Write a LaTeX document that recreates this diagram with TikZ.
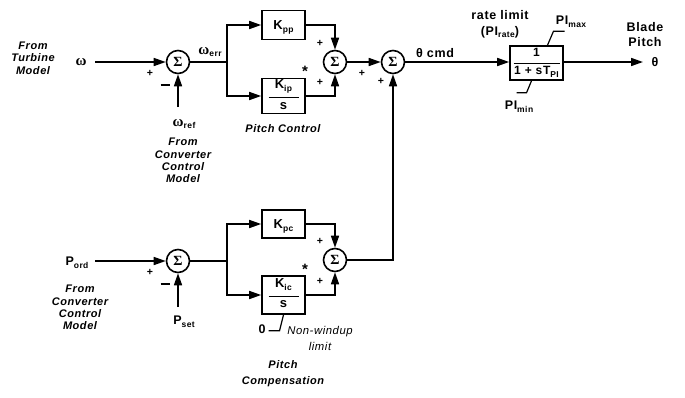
\documentclass[tikz,border=0pt]{standalone}
\usepackage{fontspec}
\setmainfont{Liberation Sans}[LetterSpace=5]
\newfontfamily\sigfont{Liberation Serif}
\usepackage{tikz}
\usetikzlibrary{arrows.meta,positioning,calc}
\newcommand\lo[1]{\raisebox{-0.45ex}{\fontsize{8.5}{9}\selectfont #1}}
\newcommand\om{{\sigfont\fontsize{15}{15}\selectfont ω}}
\newcommand\fracbox[3]{\begin{tabular}{@{}c@{}}#1\\[-4pt]\rule{#3}{1.1pt}\\[-2pt]#2\end{tabular}}

\begin{document}
\begin{tikzpicture}[x=1pt,y=-1pt,line width=1.6pt,
  arr/.style={-{Triangle[length=12pt,width=8pt]}},
  sumnode/.style={draw,circle,minimum size=23pt,inner sep=0pt,font=\sigfont\bfseries\fontsize{14}{14}\selectfont},
  blk/.style={draw,rectangle,minimum width=43pt,inner sep=0pt,font=\bfseries\fontsize{13}{13}\selectfont},
  captxt/.style={font=\bfseries\itshape\fontsize{11}{12.3}\selectfont,align=center,inner sep=0pt},
  sgn/.style={font=\bfseries\fontsize{10.5}{10.5}\selectfont,inner sep=0pt},
  lbl/.style={font=\bfseries\fontsize{12.5}{12.5}\selectfont,inner sep=0pt}]
\useasboundingbox (0,0) rectangle (685,397);
% pitch control
\node[captxt] (fromTurb) at (33,58) {From\\Turbine\\Model};
\node[lbl] (omg) at (81,62) {\om};
\coordinate (wIn) at (95,62);
\node[sumnode] (sumW) at (178,62) {Σ};
\draw[arr] (wIn) -- (sumW);
\node[sgn] (plusW) at (150,73) {+};
\node[sgn] (minusW) at (165,85) {\rule{9pt}{2pt}};
\coordinate (wrefIn) at (178,107);
\draw[arr] (wrefIn) -- (sumW);
\node[lbl] (wref) at (184,124) {\om\lo{ref}};
\node[captxt] (fromConvW) at (183,160.5) {From\\Converter\\Control\\Model};
\node[lbl] (werr) at (210,52) {\om\lo{err}};
\coordinate (brW) at (227,62);
\node[blk,minimum height=29pt,text height=9.5pt,text depth=0pt] (kpp) at (283.5,25) {K\lo{pp}};
\node[blk,minimum height=35pt] (kip) at (283.5,96) {\fracbox{K\lo{ip}}{s}{30pt}};
\node[sumnode] (sumPC) at (335,62) {Σ};
\draw (sumW) -- (brW);
\draw[arr] (brW) |- (kpp);
\draw[arr] (brW) |- (kip);
\draw[arr] (kpp) -| (sumPC);
\draw[arr] (kip) -| (sumPC);
\node[sgn] (plusPp) at (320,43) {+};
\node[sgn,font=\bfseries\fontsize{15}{15}\selectfont] (starP) at (305,71) {*};
\node[sgn] (plusPi) at (320,82) {+};
\node[captxt] (pitchCtl) at (283,129) {Pitch Control};
% total and rate limit
\node[sumnode] (sumTot) at (393,62) {Σ};
\draw[arr] (sumPC) -- (sumTot);
\node[sgn] (plusT1) at (362,73) {+};
\node[sgn] (plusT2) at (381,81) {+};
\node[lbl] (thcmd) at (435,53) {θ cmd};
\node[blk,minimum width=53pt,minimum height=34pt,font=\bfseries\fontsize{12}{12}\selectfont] (lim) at (536.5,63) {\fracbox{1}{1 + sT\lo{PI}}{46pt}};
\draw[arr] (sumTot) -- (sumTot -| lim.west);
\node[lbl] (rate) at (500,15) {rate limit};
\node[lbl] (prate) at (500,32) {(PI\lo{rate})};
\draw[line width=1.2pt] ($(lim.north)+(11,0)$) -- ++(6,-14) -- ++(11,0);
\node[lbl] (pimax) at (571,22) {PI\lo{max}};
\draw[line width=1.2pt] ($(lim.south)+(-5,0)$) -- ++(-5,12) -- ++(-10,0);
\node[lbl] (pimin) at (519,107) {PI\lo{min}};
\coordinate (thOut) at (643,62);
\draw[arr] (lim.east |- thOut) -- (thOut);
\node[lbl] (theta) at (655,62) {θ};
\node[lbl,align=center,font=\bfseries\fontsize{12.5}{15}\selectfont] (blade) at (645,35) {Blade\\Pitch};
% pitch compensation
\node[lbl] (pord) at (77,263) {P\lo{ord}};
\coordinate (pIn) at (95,261);
\node[sumnode] (sumP) at (178,261) {Σ};
\draw[arr] (pIn) -- (sumP);
\node[sgn] (plusP) at (150,272) {+};
\node[sgn] (minusP) at (165,284) {\rule{9pt}{2pt}};
\coordinate (psetIn) at (178,307);
\draw[arr] (psetIn) -- (sumP);
\node[lbl] (pset) at (184,322) {P\lo{set}};
\node[captxt] (fromConvP) at (80,307.5) {From\\Converter\\Control\\Model};
\coordinate (brP) at (227,261);
\node[blk,minimum height=28pt,text height=9.5pt,text depth=0pt] (kpc) at (283.5,224) {K\lo{pc}};
\node[blk,minimum height=38pt] (kic) at (283.5,295) {\fracbox{K\lo{ic}}{s}{30pt}};
\node[sumnode] (sumCmp) at (335,260) {Σ};
\draw (sumP) -- (brP);
\draw[arr] (brP) |- (kpc);
\draw[arr] (brP) |- (kic);
\draw[arr] (kpc) -| (sumCmp);
\draw[arr] (kic) -| (sumCmp);
\draw[arr] (sumCmp) -| (sumTot);
\node[sgn] (plusCp) at (320,241) {+};
\node[sgn,font=\bfseries\fontsize{15}{15}\selectfont] (starC) at (305,269) {*};
\node[sgn] (plusCi) at (320,281) {+};
\draw[line width=1.2pt] (kic.south) -- ++(-4,16) -- ++(-11,0);
\node[lbl] (zero) at (262,329) {0};
\node[inner sep=0pt,align=center,font=\itshape\fontsize{11.3}{16}\selectfont] (nowind) at (320,338) {Non-windup\\limit};
\node[captxt] (pitchCmp) at (283,373.5) {Pitch\\[4pt]Compensation};
\end{tikzpicture}
\end{document}
